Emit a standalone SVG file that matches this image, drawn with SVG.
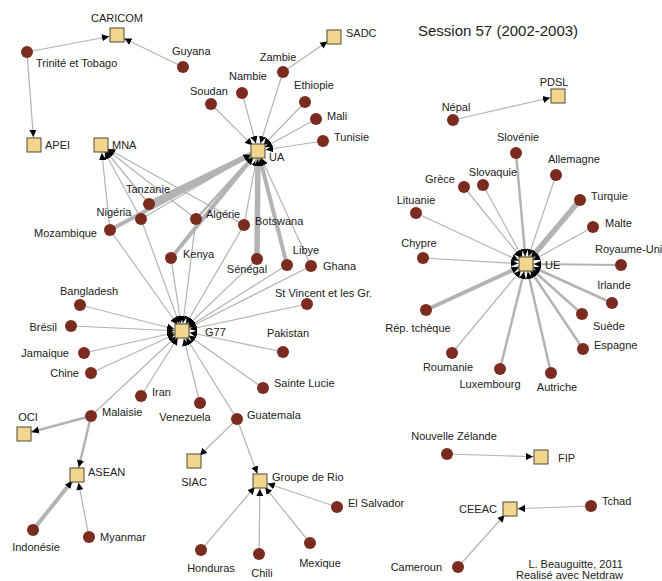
<svg xmlns="http://www.w3.org/2000/svg" width="662" height="581" viewBox="0 0 662 581">
<style>
text{font-family:"Liberation Sans",Arial,sans-serif;font-size:11px;fill:#222}
.t{font-size:15px}
.c line{stroke:#b3b3b3;stroke-width:1.2;marker-end:url(#a)}
.c .w2{stroke-width:2.5}
.c .w3{stroke-width:4}
.c .w4{stroke-width:5.5}
.s rect{fill:#f4d58d;stroke:#4a4a3a;stroke-width:1}
.d circle{fill:#7a2d1f}
.m{text-anchor:middle}
.e{text-anchor:end}
</style>
<defs>
<marker id="a" viewBox="0 0 10 10" markerUnits="userSpaceOnUse" markerWidth="8" markerHeight="8" refX="19" refY="5" orient="auto">
<path d="M0,0.5 L9,5 L0,9.5 z" fill="#000"/>
</marker>
</defs>
<rect width="662" height="581" fill="#fff"/>
<text class="t" x="418" y="36">Session 57 (2002-2003)</text>
<g id="connectors" class="c">
<line x1="27" y1="52" x2="117" y2="35"/>
<line x1="183" y1="67" x2="117" y2="35"/>
<line x1="27" y1="52" x2="34" y2="145"/>
<line x1="283" y1="72" x2="334" y2="37"/>
<line x1="453" y1="120" x2="558" y2="96"/>
<line x1="447" y1="454" x2="541" y2="457"/>
<line x1="591" y1="506" x2="510" y2="509"/>
<line x1="458" y1="567" x2="510" y2="509"/>
<line class="w2" x1="91" y1="416" x2="24" y2="434"/>
<line class="w2" x1="91" y1="416" x2="77" y2="475"/>
<line class="w3" x1="33" y1="530" x2="77" y2="475"/>
<line x1="89" y1="537" x2="77" y2="475"/>
<line x1="237" y1="419" x2="194" y2="461"/>
<line x1="237" y1="419" x2="260" y2="481"/>
<line x1="201" y1="550" x2="260" y2="481"/>
<line x1="259" y1="554" x2="260" y2="481"/>
<line x1="310" y1="543" x2="260" y2="481"/>
<line x1="337" y1="507" x2="260" y2="481"/>
<line x1="211" y1="104" x2="258" y2="151"/>
<line x1="242" y1="93" x2="258" y2="151"/>
<line x1="283" y1="72" x2="258" y2="151"/>
<line x1="305" y1="102" x2="258" y2="151"/>
<line x1="316" y1="119" x2="258" y2="151"/>
<line x1="323" y1="141" x2="258" y2="151"/>
<line class="w4" x1="149" y1="204" x2="258" y2="151"/>
<line x1="141" y1="219" x2="258" y2="151"/>
<line class="w3" x1="110" y1="230" x2="258" y2="151"/>
<line class="w2" x1="196" y1="219" x2="258" y2="151"/>
<line class="w3" x1="171" y1="258" x2="258" y2="151"/>
<line x1="244" y1="225" x2="258" y2="151"/>
<line class="w4" x1="257" y1="259" x2="258" y2="151"/>
<line class="w3" x1="287" y1="265" x2="258" y2="151"/>
<line x1="311" y1="266" x2="258" y2="151"/>
<line x1="110" y1="230" x2="101" y2="145"/>
<line x1="141" y1="219" x2="101" y2="145"/>
<line x1="149" y1="204" x2="101" y2="145"/>
<line x1="196" y1="219" x2="101" y2="145"/>
<line x1="244" y1="225" x2="101" y2="145"/>
<line x1="80" y1="305" x2="182" y2="331"/>
<line x1="71" y1="326" x2="182" y2="331"/>
<line x1="84" y1="353" x2="182" y2="331"/>
<line x1="91" y1="373" x2="182" y2="331"/>
<line x1="141" y1="396" x2="182" y2="331"/>
<line x1="200" y1="403" x2="182" y2="331"/>
<line x1="91" y1="416" x2="182" y2="331"/>
<line x1="237" y1="419" x2="182" y2="331"/>
<line x1="263" y1="388" x2="182" y2="331"/>
<line x1="283" y1="352" x2="182" y2="331"/>
<line x1="307" y1="304" x2="182" y2="331"/>
<line x1="110" y1="230" x2="182" y2="331"/>
<line x1="141" y1="219" x2="182" y2="331"/>
<line x1="171" y1="258" x2="182" y2="331"/>
<line x1="196" y1="219" x2="182" y2="331"/>
<line x1="244" y1="225" x2="182" y2="331"/>
<line x1="257" y1="259" x2="182" y2="331"/>
<line x1="287" y1="265" x2="182" y2="331"/>
<line x1="311" y1="266" x2="182" y2="331"/>
<line class="w2" x1="516" y1="153" x2="526" y2="264"/>
<line x1="556" y1="175" x2="526" y2="264"/>
<line x1="464" y1="187" x2="526" y2="264"/>
<line x1="483" y1="185" x2="526" y2="264"/>
<line x1="416" y1="213" x2="526" y2="264"/>
<line class="w4" x1="580" y1="200" x2="526" y2="264"/>
<line x1="593" y1="227" x2="526" y2="264"/>
<line x1="423" y1="258" x2="526" y2="264"/>
<line x1="621" y1="265" x2="526" y2="264" style="stroke-width:1.8"/>
<line class="w2" x1="612" y1="303" x2="526" y2="264"/>
<line class="w2" x1="582" y1="314" x2="526" y2="264"/>
<line class="w2" x1="583" y1="349" x2="526" y2="264"/>
<line class="w2" x1="551" y1="373" x2="526" y2="264"/>
<line class="w2" x1="500" y1="369" x2="526" y2="264"/>
<line x1="452" y1="353" x2="526" y2="264"/>
<line class="w3" x1="426" y1="310" x2="526" y2="264"/>
</g>
<g class="s">
<g id="n-caricom"><rect x="110" y="28" width="14" height="14"/><text class="m" x="117" y="22">CARICOM</text></g>
<g id="n-apei"><rect x="27" y="138" width="14" height="14"/><text x="45" y="149">APEI</text></g>
<g id="n-mna"><rect x="94" y="138" width="14" height="14"/><text x="112" y="149">MNA</text></g>
<g id="n-ua"><rect x="251" y="144" width="14" height="14"/><text x="269" y="161">UA</text></g>
<g id="n-sadc"><rect x="327" y="30" width="14" height="14"/><text x="346" y="37">SADC</text></g>
<g id="n-pdsl"><rect x="551" y="89" width="14" height="14"/><text class="m" x="554" y="86">PDSL</text></g>
<g id="n-ue"><rect x="519" y="257" width="14" height="14"/><text x="545" y="269">UE</text></g>
<g id="n-g77"><rect x="175" y="324" width="14" height="14"/><text x="205" y="336">G77</text></g>
<g id="n-oci"><rect x="17" y="427" width="14" height="14"/><text class="m" x="28" y="421">OCI</text></g>
<g id="n-asean"><rect x="70" y="468" width="14" height="14"/><text x="88" y="476">ASEAN</text></g>
<g id="n-siac"><rect x="187" y="454" width="14" height="14"/><text class="m" x="194" y="486">SIAC</text></g>
<g id="n-rio"><rect x="253" y="474" width="14" height="14"/><text x="272" y="481">Groupe de Rio</text></g>
<g id="n-fip"><rect x="534" y="450" width="14" height="14"/><text x="558" y="462">FIP</text></g>
<g id="n-ceeac"><rect x="503" y="502" width="14" height="14"/><text class="e" x="497" y="513">CEEAC</text></g>
</g>
<g class="d">
<g id="n-trinite"><circle cx="27" cy="52" r="6"/><text x="36" y="67">Trinité et Tobago</text></g>
<g id="n-guyana"><circle cx="183" cy="67" r="6"/><text x="172" y="55">Guyana</text></g>
<g id="n-soudan"><circle cx="211" cy="104" r="6"/><text class="m" x="209" y="95">Soudan</text></g>
<g id="n-nambie"><circle cx="242" cy="93" r="6"/><text class="m" x="248" y="80">Nambie</text></g>
<g id="n-zambie"><circle cx="283" cy="72" r="6"/><text class="m" x="278" y="61">Zambie</text></g>
<g id="n-ethiopie"><circle cx="305" cy="102" r="6"/><text class="m" x="314" y="89">Ethiopie</text></g>
<g id="n-mali"><circle cx="316" cy="119" r="6"/><text x="327" y="120">Mali</text></g>
<g id="n-tunisie"><circle cx="323" cy="141" r="6"/><text x="334" y="141">Tunisie</text></g>
<g id="n-tanzanie"><circle cx="149" cy="204" r="6"/><text class="m" x="148" y="193">Tanzanie</text></g>
<g id="n-nigeria"><circle cx="141" cy="219" r="6"/><text class="m" x="114" y="216">Nigéria</text></g>
<g id="n-mozambique"><circle cx="110" cy="230" r="6"/><text class="e" x="97" y="237">Mozambique</text></g>
<g id="n-algerie"><circle cx="196" cy="219" r="6"/><text x="206" y="218">Algérie</text></g>
<g id="n-kenya"><circle cx="171" cy="258" r="6"/><text x="183" y="258">Kenya</text></g>
<g id="n-botswana"><circle cx="244" cy="225" r="6"/><text x="255" y="225">Botswana</text></g>
<g id="n-senegal"><circle cx="257" cy="259" r="6"/><text class="m" x="247" y="273">Sénégal</text></g>
<g id="n-libye"><circle cx="287" cy="265" r="6"/><text class="m" x="306" y="254">Libye</text></g>
<g id="n-ghana"><circle cx="311" cy="266" r="6"/><text x="323" y="270">Ghana</text></g>
<g id="n-stvincent"><circle cx="307" cy="304" r="6"/><text x="275" y="297">St Vincent et les Gr.</text></g>
<g id="n-bangladesh"><circle cx="80" cy="305" r="6"/><text class="m" x="89" y="295">Bangladesh</text></g>
<g id="n-bresil"><circle cx="71" cy="326" r="6"/><text class="e" x="57" y="331">Brésil</text></g>
<g id="n-jamaique"><circle cx="84" cy="353" r="6"/><text class="e" x="69" y="357">Jamaique</text></g>
<g id="n-chine"><circle cx="91" cy="373" r="6"/><text class="e" x="79" y="377">Chine</text></g>
<g id="n-iran"><circle cx="141" cy="396" r="6"/><text x="152" y="396">Iran</text></g>
<g id="n-venezuela"><circle cx="200" cy="403" r="6"/><text class="m" x="185" y="421">Venezuela</text></g>
<g id="n-malaisie"><circle cx="91" cy="416" r="6"/><text x="102" y="416">Malaisie</text></g>
<g id="n-pakistan"><circle cx="283" cy="352" r="6"/><text class="m" x="288" y="337">Pakistan</text></g>
<g id="n-saintelucie"><circle cx="263" cy="388" r="6"/><text x="274" y="387">Sainte Lucie</text></g>
<g id="n-guatemala"><circle cx="237" cy="419" r="6"/><text x="247" y="419">Guatemala</text></g>
<g id="n-indonesie"><circle cx="33" cy="530" r="6"/><text class="m" x="36" y="551">Indonésie</text></g>
<g id="n-myanmar"><circle cx="89" cy="537" r="6"/><text x="100" y="541">Myanmar</text></g>
<g id="n-honduras"><circle cx="201" cy="550" r="6"/><text class="m" x="211" y="572">Honduras</text></g>
<g id="n-chili"><circle cx="259" cy="554" r="6"/><text class="m" x="262" y="577">Chili</text></g>
<g id="n-mexique"><circle cx="310" cy="543" r="6"/><text class="m" x="320" y="567">Mexique</text></g>
<g id="n-elsalvador"><circle cx="337" cy="507" r="6"/><text x="348" y="507">El Salvador</text></g>
<g id="n-nepal"><circle cx="453" cy="120" r="6"/><text class="m" x="456" y="111">Népal</text></g>
<g id="n-slovenie"><circle cx="516" cy="153" r="6"/><text class="m" x="518" y="141">Slovénie</text></g>
<g id="n-allemagne"><circle cx="556" cy="175" r="6"/><text class="m" x="574" y="163">Allemagne</text></g>
<g id="n-grece"><circle cx="464" cy="187" r="6"/><text class="m" x="440" y="183">Grèce</text></g>
<g id="n-slovaquie"><circle cx="483" cy="185" r="6"/><text class="m" x="493" y="176">Slovaquie</text></g>
<g id="n-lituanie"><circle cx="416" cy="213" r="6"/><text class="m" x="416" y="204">Lituanie</text></g>
<g id="n-turquie"><circle cx="580" cy="200" r="6"/><text x="591" y="200">Turquie</text></g>
<g id="n-malte"><circle cx="593" cy="227" r="6"/><text x="605" y="227">Malte</text></g>
<g id="n-chypre"><circle cx="423" cy="258" r="6"/><text class="m" x="419" y="247">Chypre</text></g>
<g id="n-royaumeuni"><circle cx="621" cy="265" r="6"/><text x="595" y="253">Royaume-Uni</text></g>
<g id="n-irlande"><circle cx="612" cy="303" r="6"/><text class="m" x="614" y="289">Irlande</text></g>
<g id="n-suede"><circle cx="582" cy="314" r="6"/><text x="593" y="330">Suède</text></g>
<g id="n-espagne"><circle cx="583" cy="349" r="6"/><text x="594" y="349">Espagne</text></g>
<g id="n-autriche"><circle cx="551" cy="373" r="6"/><text class="m" x="557" y="391">Autriche</text></g>
<g id="n-luxembourg"><circle cx="500" cy="369" r="6"/><text class="m" x="490" y="388">Luxembourg</text></g>
<g id="n-roumanie"><circle cx="452" cy="353" r="6"/><text class="m" x="448" y="371">Roumanie</text></g>
<g id="n-reptcheque"><circle cx="426" cy="310" r="6"/><text class="m" x="418" y="332">Rép. tchèque</text></g>
<g id="n-nz"><circle cx="447" cy="454" r="6"/><text class="m" x="454" y="440">Nouvelle Zélande</text></g>
<g id="n-tchad"><circle cx="591" cy="506" r="6"/><text x="602" y="505">Tchad</text></g>
<g id="n-cameroun"><circle cx="458" cy="567" r="6"/><text class="e" x="442" y="571">Cameroun</text></g>
</g>
<text class="e" x="623" y="568">L. Beauguitte, 2011</text>
<text class="e" x="623" y="579">Realisé avec Netdraw</text>
</svg>
